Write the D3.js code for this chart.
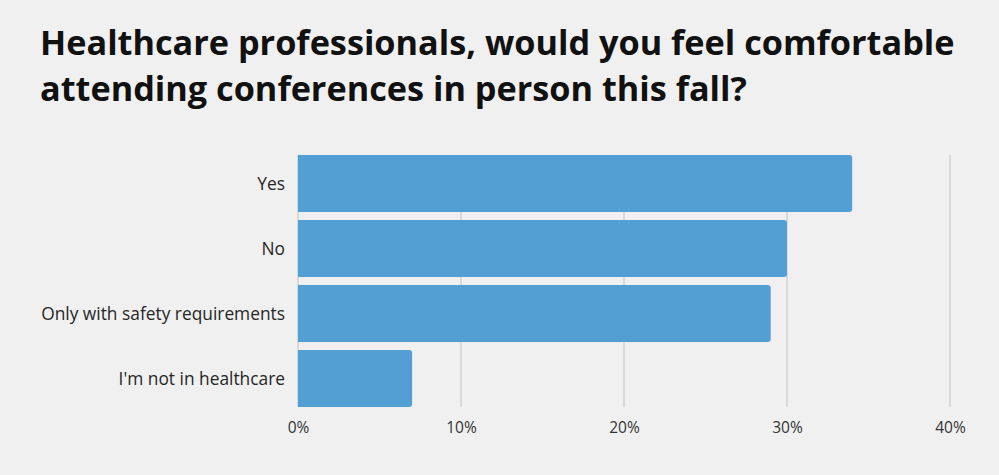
<!DOCTYPE html>
<html>
<head>
<meta charset="utf-8">
<script src="https://cdn.jsdelivr.net/npm/d3@7"></script>
<style>
  body { margin: 0; background: #f0f0f0; }
  svg { display: block; }
</style>
</head>
<body>
<svg id="chart"></svg>
<script>
// chart data
const titleLines = ["Healthcare professionals, would you feel comfortable", "attending conferences in person this fall?"];
const categories = ["Yes", "No", "Only with safety requirements", "I'm not in healthcare"];
const values = [34, 30, 29, 7];
const ticks = [0, 10, 20, 30, 40];

const width = 999, height = 475;
const margin = {left: 298, right: 49, top: 155, bottom: 68};
const font = "'Open Sans', Lato, sans-serif";

const svg = d3.select("#chart").attr("width", width).attr("height", height);
svg.append("rect").attr("width", width).attr("height", height).attr("fill", "#f0f0f0");

// shrink or grow a text group so its widest line fits the wanted width
function fitSize(sel, base, wanted) {
  let w = 0;
  sel.each(function() { w = Math.max(w, this.getComputedTextLength()); });
  sel.attr("font-size", base * wanted / w);
}

// title
const titleText = svg.append("g").selectAll("text").data(titleLines).join("text")
  .attr("x", 40).attr("y", (d, i) => 55 + i * 46)
  .attr("font-family", font)
  .attr("font-weight", 700)
  .attr("font-size", 34)
  .attr("fill", "#111")
  .text(d => d);
fitSize(titleText, 34, 915);

const x = d3.scaleLinear().domain([0, 40]).range([margin.left, width - margin.right]);
const y = d3.scaleBand().domain(categories)
  .range([margin.top, height - margin.bottom])
  .paddingInner(0.123).paddingOuter(0);

// gridlines
svg.append("g").selectAll("line").data(ticks).join("line")
  .attr("x1", d => x(d)).attr("x2", d => x(d))
  .attr("y1", margin.top).attr("y2", height - margin.bottom)
  .attr("stroke", "#d2d2d2").attr("stroke-width", 1.5);

// bars, rounded on the right end only
const r = 3;
svg.append("g").selectAll("path").data(values).join("path")
  .attr("fill", "#539fd4")
  .attr("d", (d, i) => {
    const x0 = x(0), x1 = x(d), y0 = y(categories[i]), h = y.bandwidth();
    return `M${x0},${y0}H${x1 - r}Q${x1},${y0} ${x1},${y0 + r}V${y0 + h - r}Q${x1},${y0 + h} ${x1 - r},${y0 + h}H${x0}Z`;
  });

// category labels
const labels = svg.append("g").selectAll("text").data(categories).join("text")
  .attr("x", 285)
  .attr("y", d => y(d) + y.bandwidth() / 2)
  .attr("dy", "0.35em")
  .attr("text-anchor", "end")
  .attr("font-family", font)
  .attr("font-size", 15)
  .attr("fill", "#262626")
  .text(d => d);
fitSize(labels, 15, 244);

// x axis tick labels
const xAxis = d3.axisBottom(x).tickValues(ticks).tickFormat(d => d + "%").tickSize(0).tickPadding(15);
const ax = svg.append("g").attr("transform", `translate(0,${height - margin.bottom})`).call(xAxis);
ax.select(".domain").remove();
ax.attr("font-family", font).attr("font-size", 15.5);
ax.selectAll("text").attr("fill", "#333");
</script>
</body>
</html>
